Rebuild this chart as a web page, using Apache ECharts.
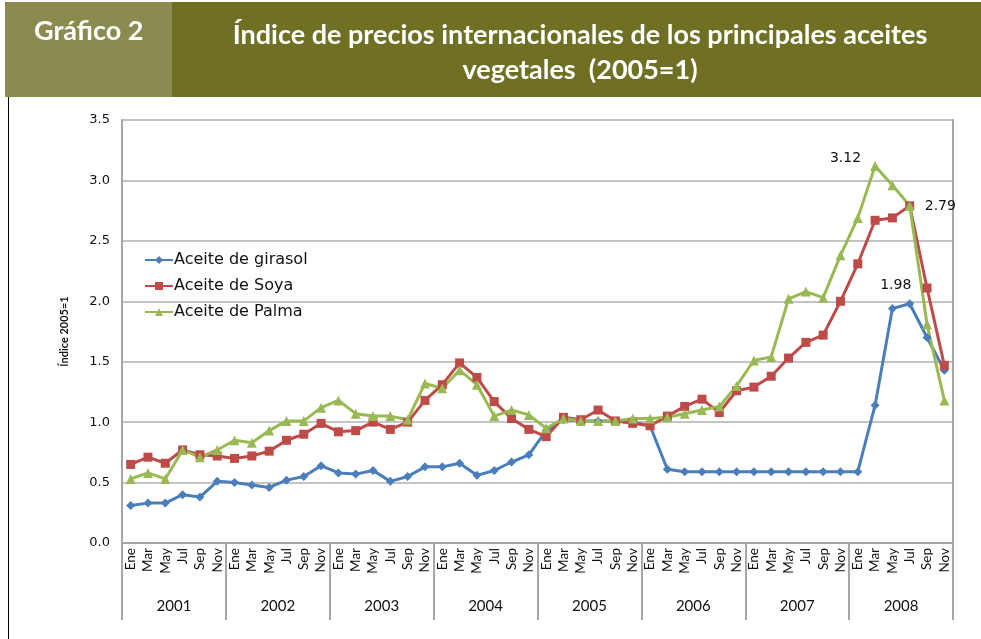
<!DOCTYPE html>
<html>
<head>
<meta charset="utf-8">
<script src="https://cdn.jsdelivr.net/npm/echarts@6/dist/echarts.min.js"></script>
<style>
  html, body { margin: 0; padding: 0; background: #fff; }
  #chart { width: 981px; height: 639px; }
</style>
</head>
<body>
<div id="chart"></div>
<script>
// datos bimestrales 2001-2008, índice 2005=1
const years = ['2001', '2002', '2003', '2004', '2005', '2006', '2007', '2008'];
const months = ['Ene', 'Mar', 'May', 'Jul', 'Sep', 'Nov'];

const girasol = [
  0.31, 0.33, 0.33, 0.40, 0.38, 0.51,
  0.50, 0.48, 0.46, 0.52, 0.55, 0.64,
  0.58, 0.57, 0.60, 0.51, 0.55, 0.63,
  0.63, 0.66, 0.56, 0.60, 0.67, 0.73,
  0.93, 1.02, 1.01, 1.01, 1.01, 1.00,
  0.97, 0.61, 0.59, 0.59, 0.59, 0.59,
  0.59, 0.59, 0.59, 0.59, 0.59, 0.59,
  0.59, 1.14, 1.94, 1.98, 1.70, 1.43
];
const soya = [
  0.65, 0.71, 0.66, 0.77, 0.73, 0.72,
  0.70, 0.72, 0.76, 0.85, 0.90, 0.99,
  0.92, 0.93, 1.00, 0.94, 1.00, 1.18,
  1.31, 1.49, 1.37, 1.17, 1.03, 0.94,
  0.88, 1.04, 1.02, 1.10, 1.01, 0.99,
  0.97, 1.05, 1.13, 1.19, 1.08, 1.26,
  1.29, 1.38, 1.53, 1.66, 1.72, 2.00,
  2.31, 2.67, 2.69, 2.79, 2.11, 1.47
];
const palma = [
  0.53, 0.58, 0.53, 0.77, 0.71, 0.77,
  0.85, 0.83, 0.93, 1.01, 1.01, 1.12,
  1.18, 1.07, 1.05, 1.05, 1.02, 1.32,
  1.28, 1.43, 1.31, 1.05, 1.10, 1.06,
  0.95, 1.03, 1.01, 1.01, 1.01, 1.03,
  1.03, 1.04, 1.07, 1.10, 1.13, 1.30,
  1.51, 1.54, 2.02, 2.08, 2.03, 2.38,
  2.69, 3.12, 2.96, 2.79, 1.81, 1.18
];

const categories = [];
years.forEach(y => months.forEach(m => categories.push(y + '-' + m)));

const chart = echarts.init(document.getElementById('chart'));

const grey = '#a6a6a6';
const labelFont = { fontFamily: 'DejaVu Sans', fontSize: 14, color: '#111' };

// etiquetas de los máximos de 2008
function withLabels(values, labels) {
  return values.map((v, i) => {
    if (!labels[i]) return v;
    return { value: v, label: Object.assign({ show: true, formatter: v.toFixed(2) }, labelFont, labels[i]) };
  });
}

const option = {
  animation: false,
  grid: { left: 122, right: 28, top: 120, bottom: 96, containLabel: false },
  graphic: [
    { type: 'rect', shape: { x: 5, y: 2, width: 167, height: 95 }, style: { fill: '#8b8b4f' } },
    { type: 'rect', shape: { x: 172, y: 2, width: 809, height: 95 }, style: { fill: '#6f7023' } },
    {
      type: 'text', left: 34, top: 18,
      style: { text: 'Gráfico 2', fill: '#fff', font: 'bold 27px Lato' }
    },
    {
      type: 'text', x: 580, y: 18,
      style: {
        text: 'Índice de precios internacionales de los principales aceites\nvegetales  (2005=1)',
        fill: '#fff', font: 'bold 27px Lato', align: 'center', lineHeight: 35
      }
    },
    { type: 'line', shape: { x1: 8.5, y1: 97, x2: 8.5, y2: 639 }, style: { stroke: '#000', lineWidth: 1 } }
  ],
  legend: {
    orient: 'vertical',
    left: 139, top: 247,
    itemGap: 10,
    itemWidth: 28, itemHeight: 10,
    textStyle: { fontFamily: 'DejaVu Sans', fontSize: 16, color: '#111', padding: [0, 0, 0, -4] },
    data: ['Aceite de girasol', 'Aceite de Soya', 'Aceite de Palma']
  },
  xAxis: [
    {
      type: 'category',
      data: categories,
      axisLine: { lineStyle: { color: grey, width: 2 } },
      axisTick: { show: false },
      axisLabel: {
        interval: 0, rotate: 90, margin: 5,
        fontFamily: 'Lato', fontSize: 13.5, color: '#111',
        formatter: v => v.split('-')[1]
      }
    },
    {
      type: 'category',
      data: years,
      position: 'bottom',
      axisLine: { show: false },
      axisTick: { show: true, interval: 0, length: 77, lineStyle: { color: grey, width: 2 } },
      axisLabel: { interval: 0, margin: 56, fontFamily: 'Lato', fontSize: 15, color: '#111' }
    }
  ],
  yAxis: [
    {
      type: 'value',
      min: 0, max: 3.5, interval: 0.5,
      name: 'Índice 2005=1',
      nameLocation: 'middle',
      nameGap: 52,
      nameTextStyle: { fontFamily: 'Lato', fontWeight: 'bold', fontSize: 11, color: '#111' },
      axisLine: { show: true, lineStyle: { color: grey, width: 2 } },
      axisTick: { show: false },
      axisLabel: { margin: 12, fontFamily: 'DejaVu Sans', fontSize: 13, color: '#111', formatter: v => v.toFixed(1) },
      splitLine: { lineStyle: { color: '#c4c4c4', width: 2 } }
    },
    {
      type: 'value',
      position: 'right',
      min: 0, max: 3.5, interval: 0.5,
      axisLine: { show: true, lineStyle: { color: grey, width: 2 } },
      axisTick: { show: false },
      axisLabel: { show: false },
      splitLine: { show: false }
    }
  ],
  series: [
    {
      name: 'Aceite de girasol', type: 'line',
      data: withLabels(girasol, { 45: { position: 'top', distance: 7, offset: [-14, 0] } }),
      symbol: 'diamond', symbolSize: 9,
      lineStyle: { width: 3, color: '#4a7ebb' },
      itemStyle: { color: '#4a7ebb' }
    },
    {
      name: 'Aceite de Soya', type: 'line',
      data: soya,
      symbol: 'rect', symbolSize: 9,
      lineStyle: { width: 3, color: '#be4b48' },
      itemStyle: { color: '#be4b48' }
    },
    {
      name: 'Aceite de Palma', type: 'line',
      data: withLabels(palma, {
        43: { position: 'left', distance: 9, offset: [0, -8] },
        45: { position: 'right', distance: 10, offset: [0, 1] }
      }),
      symbol: 'triangle', symbolSize: 10,
      lineStyle: { width: 3, color: '#98b954' },
      itemStyle: { color: '#98b954' }
    }
  ]
};

chart.setOption(option);
</script>
</body>
</html>
